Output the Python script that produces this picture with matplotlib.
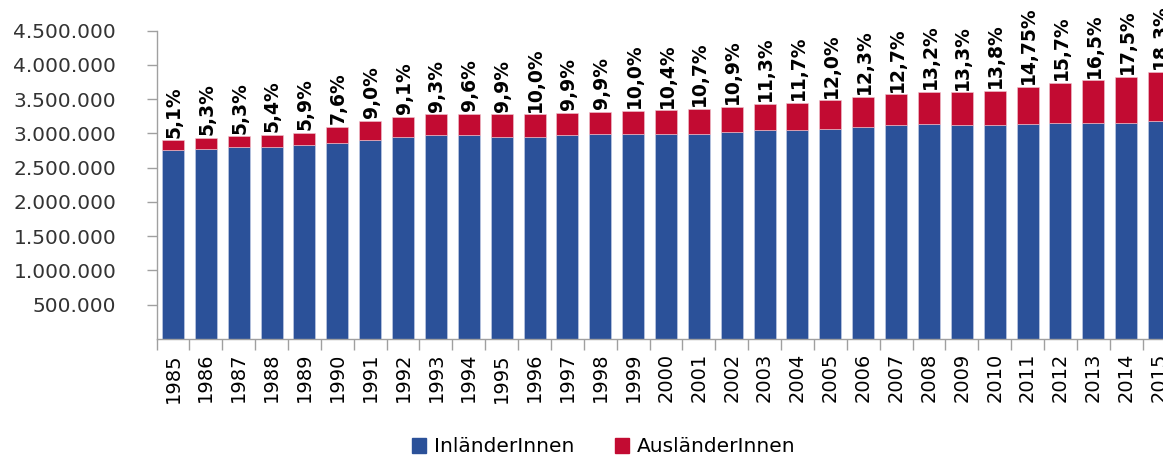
# Population: nationals vs. foreigners, stacked bars 1985-2015

import matplotlib.pyplot as plt
from matplotlib.patches import Patch

years = list(range(1985, 2016))

# InländerInnen (persons)
inland = [2753000, 2773000, 2797000, 2807000, 2826000, 2861000, 2899000,
          2953000, 2972000, 2972000, 2953000, 2953000, 2972000, 2993000,
          2993000, 2993000, 2993000, 3026000, 3045000, 3045000, 3066000,
          3099000, 3118000, 3139000, 3118000, 3118000, 3139000, 3154000,
          3154000, 3154000, 3187000]

# AusländerInnen (persons)
foreign = [146000, 163000, 161000, 171000, 186000, 238000, 290000,
           293000, 305000, 318000, 326000, 326000, 328000, 321000,
           335000, 345000, 362000, 361000, 386000, 401000, 418000,
           435000, 454000, 472000, 482000, 500000, 543000, 582000,
           620000, 670000, 712000]

# share of foreigners, as printed on the bars
share_labels = ['5,1%', '5,3%', '5,3%', '5,4%', '5,9%', '7,6%', '9,0%',
                '9,1%', '9,3%', '9,6%', '9,9%', '10,0%', '9,9%', '9,9%',
                '10,0%', '10,4%', '10,7%', '10,9%', '11,3%', '11,7%', '12,0%',
                '12,3%', '12,7%', '13,2%', '13,3%', '13,8%', '14,75%', '15,7%',
                '16,5%', '17,5%', '18,3%']

blue = '#2B5199'
red = '#C20B32'
grey = '#A0A0A0'
text_col = '#333333'

fig = plt.figure(figsize=(11.63, 4.55), dpi=100)
ax = fig.add_axes([156.5 / 1163, 116 / 455, 1019 / 1163, 308.3 / 455])

x = list(range(len(years)))
ax.bar(x, inland, width=0.67, color=blue, edgecolor='#C8D2E8', linewidth=0.4)
ax.bar(x, foreign, width=0.67, bottom=inland, color=red,
       edgecolor='#F0C8D0', linewidth=0.4)

# percentage labels above each bar
for i in x:
    top = inland[i] + foreign[i]
    ax.text(i + 0.03, top + 40000, share_labels[i], rotation=90,
            ha='center', va='bottom', fontsize=13.5, fontweight='bold',
            color='black', clip_on=False)

ax.set_xlim(-0.5, len(years) - 0.5)
ax.set_ylim(0, 4500000)

ax.set_yticks([500000 * k for k in range(1, 10)])
ax.set_yticklabels([f'{500000 * k:,}'.replace(',', '.') for k in range(1, 10)],
                   fontsize=14.5, color=text_col)

# ticks between categories, labels centered on bars
ax.set_xticks([i - 0.5 for i in range(len(years) + 1)])
ax.set_xticklabels([])
ax.set_xticks(x, minor=True)
ax.set_xticklabels([str(y) for y in years], minor=True, rotation=90,
                   fontsize=14, color='black')
ax.tick_params(axis='x', which='major', length=8, color=grey, width=1)
ax.tick_params(axis='x', which='minor', length=0, pad=10)
ax.tick_params(axis='y', length=7, color=grey, width=1, pad=22)

for side in ['top', 'right']:
    ax.spines[side].set_visible(False)
for side in ['left', 'bottom']:
    ax.spines[side].set_color(grey)
    ax.spines[side].set_linewidth(1)

handles = [Patch(color=blue, label='InländerInnen'),
           Patch(color=red, label='AusländerInnen')]
fig.legend(handles=handles, loc='center', bbox_to_anchor=(0.519, 8 / 455),
           ncol=2, frameon=False, fontsize=14.5, handlelength=0.7,
           handleheight=0.7, handletextpad=0.4, columnspacing=2.0)

fig.savefig('out.png', dpi=100)
